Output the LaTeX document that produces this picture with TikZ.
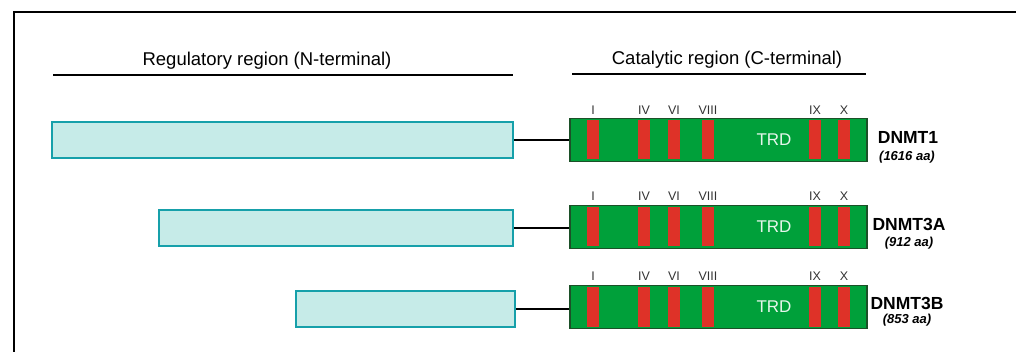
\documentclass[tikz,border=0pt]{standalone}
\usepackage{fontspec}
\setmainfont{Liberation Sans}
\usepackage{tikz}
\usepackage{xcolor}

\definecolor{regfill}{RGB}{198,235,232}
\definecolor{regline}{RGB}{22,160,170}
\definecolor{catfill}{RGB}{0,160,58}
\definecolor{catline}{RGB}{28,80,40}
\definecolor{motif}{RGB}{222,50,40}

\begin{document}
\begin{tikzpicture}[x=1pt,y=-1pt,
    regbox/.style={draw=regline,fill=regfill,line width=1.6pt,minimum height=36pt,inner sep=0pt},
    catbox/.style={draw=catline,fill=catfill,line width=1.2pt,minimum width=297pt,minimum height=43pt,inner sep=0pt},
    bar/.style={fill=motif,draw=none,minimum width=12pt,minimum height=39pt,inner sep=0pt},
    numeral/.style={font=\fontsize{12.5}{14}\selectfont,text=black!80},
    header/.style={font=\fontsize{18.5}{20}\selectfont},
    trd/.style={font=\fontsize{17}{19}\selectfont,text=white!90!catfill},
    enzyme/.style={font=\bfseries\fontsize{17.5}{19}\selectfont},
    length/.style={font=\bfseries\itshape\fontsize{13}{14}\selectfont}]
    \useasboundingbox (0,0) rectangle (1016,352);
    \draw[line width=2pt] (1016,12) -- (14,12) -- (14,352);

    % Region headers
    \node[header] (reghead) at (267,61) {Regulatory region (N-terminal)};
    \node[header] (cathead) at (727,60) {Catalytic region (C-terminal)};
    \coordinate (rl) at (53,75);
    \coordinate (rr) at (513,75);
    \coordinate (cl) at (572,74);
    \coordinate (cr) at (866,74);
    \draw[line width=1.5pt] (rl) -- (rr);
    \draw[line width=1.5pt] (cl) -- (cr);

    % DNMT1
    \node[regbox,minimum width=461pt] (reg1) at (282.5,140) {};
    \node[catbox] (cat1) at (718.5,140) {};
    \draw[line width=1.5pt] (reg1.east) -- (cat1.west);
    \foreach \x/\t in {593/I,644/IV,674/VI,708/VIII,815/IX,844/X} {
      \node[bar] at (\x,140) {};
      \node[numeral] at (\x,110) {\t};
    }
    \node[trd] (trd1) at (774,140) {TRD};
    \node[enzyme] (name1) at (908,137) {DNMT1};
    \node[length] (len1) at (907,157) {(1616 aa)};

    % DNMT3A
    \node[regbox,minimum width=354pt] (reg2) at (336,228) {};
    \node[catbox] (cat2) at (718.5,227) {};
    \draw[line width=1.5pt] (reg2.east) -- (reg2.east -| cat2.west);
    \foreach \x/\t in {593/I,644/IV,674/VI,708/VIII,815/IX,844/X} {
      \node[bar] at (\x,227) {};
      \node[numeral] at (\x,196) {\t};
    }
    \node[trd] (trd2) at (774,227) {TRD};
    \node[enzyme] (name2) at (909,224) {DNMT3A};
    \node[length] (len2) at (909,243) {(912 aa)};

    % DNMT3B
    \node[regbox,minimum width=219pt] (reg3) at (405.5,309) {};
    \node[catbox] (cat3) at (718.5,307) {};
    \draw[line width=1.5pt] (reg3.east) -- (reg3.east -| cat3.west);
    \foreach \x/\t in {593/I,644/IV,674/VI,708/VIII,815/IX,844/X} {
      \node[bar] at (\x,307) {};
      \node[numeral] at (\x,276) {\t};
    }
    \node[trd] (trd3) at (774,307) {TRD};
    \node[enzyme] (name3) at (907,303) {DNMT3B};
    \node[length] (len3) at (907,320) {(853 aa)};
\end{tikzpicture}
\end{document}
